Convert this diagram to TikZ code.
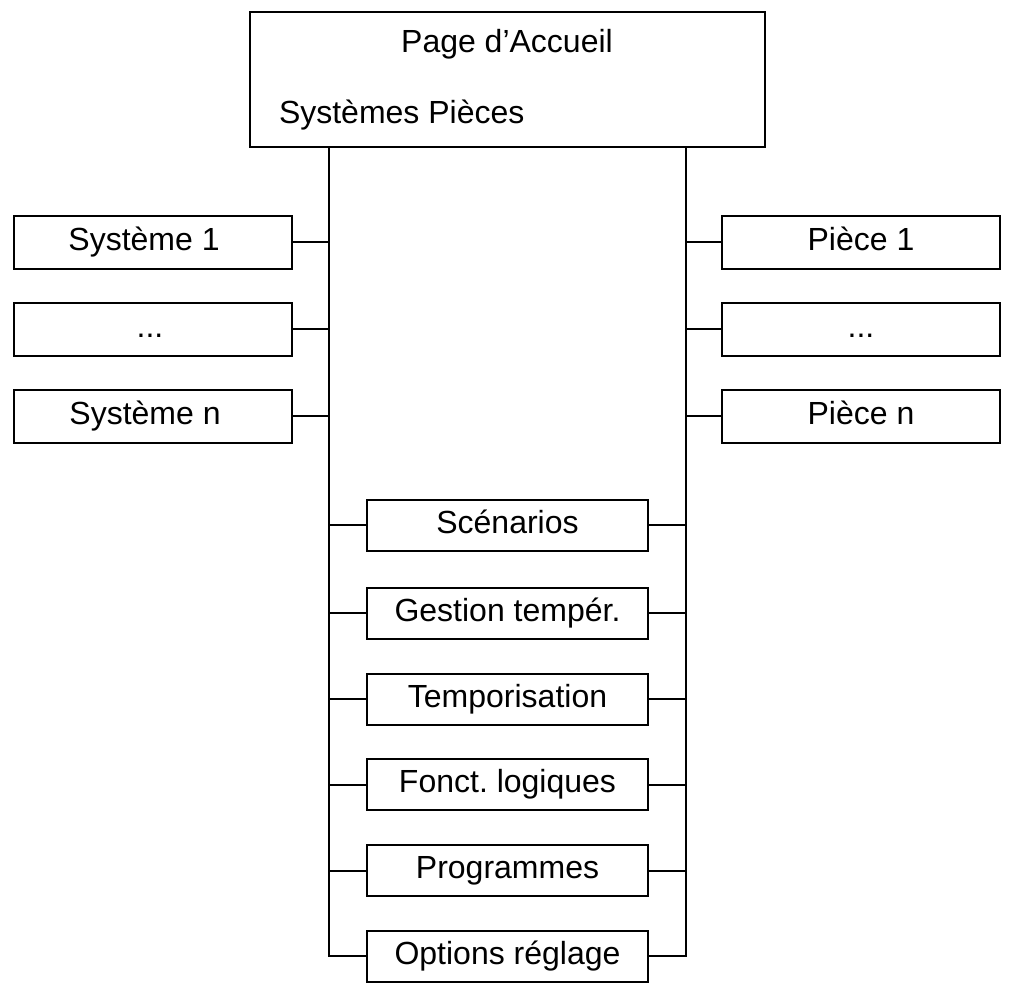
\documentclass[tikz,border=0pt]{standalone}
\usepackage{fontspec}
\setmainfont{Liberation Sans}
\usepackage{tikz}
\frenchspacing

\begin{document}
\begin{tikzpicture}[x=0.5pt, y=-0.5pt, line width=1pt,
		boite/.style={draw, line width=1pt, inner sep=0pt, minimum width=139pt, minimum height=26.5pt},
		menu/.style={draw, line width=1pt, inner sep=0pt, minimum width=140.5pt, minimum height=25.5pt},
		every node/.style={font=\fontsize{16}{19}\selectfont, text height=11.5pt, text depth=3.5pt}]
		% Cadre de la page
		\useasboundingbox (0,0) rectangle (1009,987);

		% Page d'accueil
		\node[draw, line width=1pt, minimum width=257.5pt, minimum height=67.5pt] (page) at (507.5,79.5) {};
		\node[inner sep=0pt] (titre) at (507,44) {Page d’Accueil};
		\node[anchor=west, inner sep=0pt] (liens) at (278,115) {Systèmes Pièces};

		% Les deux lignes verticales
		\coordinate (gauche) at (329,0);
		\coordinate (droite) at (686,0);

		% Systèmes (à gauche), texte un peu décalé vers la gauche
		\node[boite] (s1) at (153,242) {Système 1\kern9pt};
		\node[boite] (s2) at (153,329) {...\kern3pt};
		\node[boite] (sn) at (153,416) {Système n\kern8pt};

		% Pièces (à droite)
		\node[boite] (p1) at (861,242) {Pièce 1};
		\node[boite] (p2) at (861,329) {...};
		\node[boite] (pn) at (861,416) {Pièce n};

		% Menus du milieu
		\node[menu] (m1) at (507.5,525) {Scénarios};
		\node[menu] (m2) at (507.5,613) {Gestion tempér.};
		\node[menu] (m3) at (507.5,699) {Temporisation};
		\node[menu] (m4) at (507.5,784.5) {Fonct. logiques};
		\node[menu] (m5) at (507.5,870.5) {Programmes};
		\node[menu] (m6) at (507.5,956) {Options réglage};

		% Liaisons
		\draw (page.south -| gauche) |- (m6.west);
		\draw (page.south -| droite) |- (m6.east);
		\foreach \s in {s1,s2,sn} \draw (\s.east) -- (\s.east -| gauche);
		\foreach \p in {p1,p2,pn} \draw (\p.west) -- (\p.west -| droite);
		\foreach \m in {m1,m2,m3,m4,m5} {
			\draw (\m.west) -- (\m.west -| gauche);
			\draw (\m.east) -- (\m.east -| droite);
		}
	\end{tikzpicture}
\end{document}
